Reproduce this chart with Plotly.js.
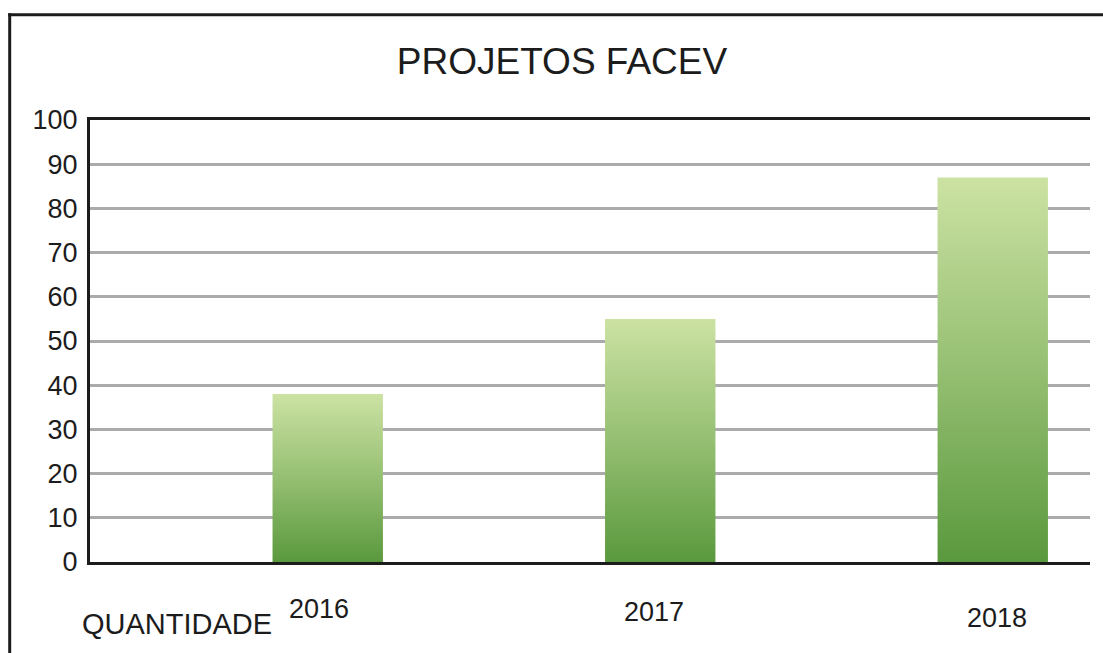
<!DOCTYPE html>
<html>
<head>
<meta charset="utf-8">
<script src="https://cdn.plot.ly/plotly-3.0.1.min.js"></script>
<style>
  html, body { margin: 0; padding: 0; background: #ffffff; }
  #chart { width: 1103px; height: 653px; }
</style>
</head>
<body>
<div id="chart"></div>
<script>
// ---- data ----
const categories = ['2016', '2017', '2018'];
const projetos = [38, 55, 87];
const yTicks = [0, 10, 20, 30, 40, 50, 60, 70, 80, 90, 100];
const chartTitle = 'PROJETOS FACEV';
const seriesLabel = 'QUANTIDADE';

// ---- style ----
const FONT = 'Liberation Sans, Arial, sans-serif';
const INK = '#1c1c1c';
const labelShiftX = [-9, -6, 4];
const labelShiftY = [-47, -50, -56];

const trace = {
  type: 'bar',
  x: categories,
  y: projetos,
  width: 0.332,
  marker: { color: '#8bb86a', line: { width: 0 } },
  hoverinfo: 'x+y'
};

const annotations = categories.map((c, i) => ({
  xref: 'x', yref: 'paper', x: i, y: 0,
  xanchor: 'center', yanchor: 'middle',
  xshift: labelShiftX[i], yshift: labelShiftY[i],
  text: c, showarrow: false,
  font: { family: FONT, size: 27, color: INK }
}));
annotations.push({
  xref: 'paper', yref: 'paper', x: (176.5 - 90) / 1000, y: 0,
  xanchor: 'center', yanchor: 'middle', yshift: -62,
  text: seriesLabel, showarrow: false,
  font: { family: FONT, size: 29, color: INK }
});

const layout = {
  width: 1103, height: 653,
  margin: { l: 90, r: 13, t: 120, b: 91, pad: 0 },
  paper_bgcolor: '#ffffff', plot_bgcolor: '#ffffff',
  showlegend: false,
  title: {
    text: chartTitle,
    x: 562 / 1103, xanchor: 'center', xref: 'container',
    y: (653 - 61) / 653, yanchor: 'middle', yref: 'container',
    font: { family: FONT, size: 37, color: INK }
  },
  xaxis: {
    type: 'category',
    range: [-0.715, 2.2925],
    showticklabels: false, ticks: '',
    showgrid: false, zeroline: false,
    showline: true, mirror: true, linecolor: INK, linewidth: 3
  },
  yaxis: {
    range: [0, 100],
    tickvals: yTicks, ticktext: yTicks.map(String),
    ticks: '', ticklabelstandoff: 4,
    tickfont: { family: FONT, size: 27, color: INK },
    showgrid: true, gridcolor: '#ababab', gridwidth: 3,
    zeroline: false,
    showline: true, mirror: false, linecolor: INK, linewidth: 3
  },
  annotations: annotations,
  shapes: [
    { type: 'line', xref: 'paper', yref: 'paper', layer: 'above',
      x0: (9.7 - 90) / 1000, x1: (9.7 - 90) / 1000,
      y0: (562 - 700) / 442, y1: (562 - 13.2) / 442,
      line: { color: INK, width: 3 } },
    { type: 'line', xref: 'paper', yref: 'paper', layer: 'above',
      x0: (8.2 - 90) / 1000, x1: (1110 - 90) / 1000,
      y0: (562 - 14.7) / 442, y1: (562 - 14.7) / 442,
      line: { color: INK, width: 3 } }
  ]
};

function applyGradient(gd) {
  const svg = gd.querySelector('svg.main-svg');
  if (!svg) return;
  let defs = svg.querySelector('defs');
  if (!defs) { defs = document.createElementNS('http://www.w3.org/2000/svg', 'defs'); svg.insertBefore(defs, svg.firstChild); }
  if (!svg.querySelector('#barGrad')) {
    const lg = document.createElementNS('http://www.w3.org/2000/svg', 'linearGradient');
    lg.setAttribute('id', 'barGrad');
    lg.setAttribute('x1', '0'); lg.setAttribute('y1', '0');
    lg.setAttribute('x2', '0'); lg.setAttribute('y2', '1');
    [['0%', '#cce2a3'], ['50%', '#95bf72'], ['100%', '#5a993d']].forEach(([o, c]) => {
      const s = document.createElementNS('http://www.w3.org/2000/svg', 'stop');
      s.setAttribute('offset', o); s.setAttribute('stop-color', c);
      lg.appendChild(s);
    });
    defs.appendChild(lg);
  }
  gd.querySelectorAll('.barlayer .point path').forEach(p => {
    p.style.fill = 'url(#barGrad)';
  });
}

const gd = document.getElementById('chart');
Plotly.newPlot(gd, [trace], layout, { displayModeBar: false, staticPlot: true }).then(() => {
  applyGradient(gd);
  gd.on && gd.on('plotly_afterplot', () => applyGradient(gd));
});
</script>
</body>
</html>
